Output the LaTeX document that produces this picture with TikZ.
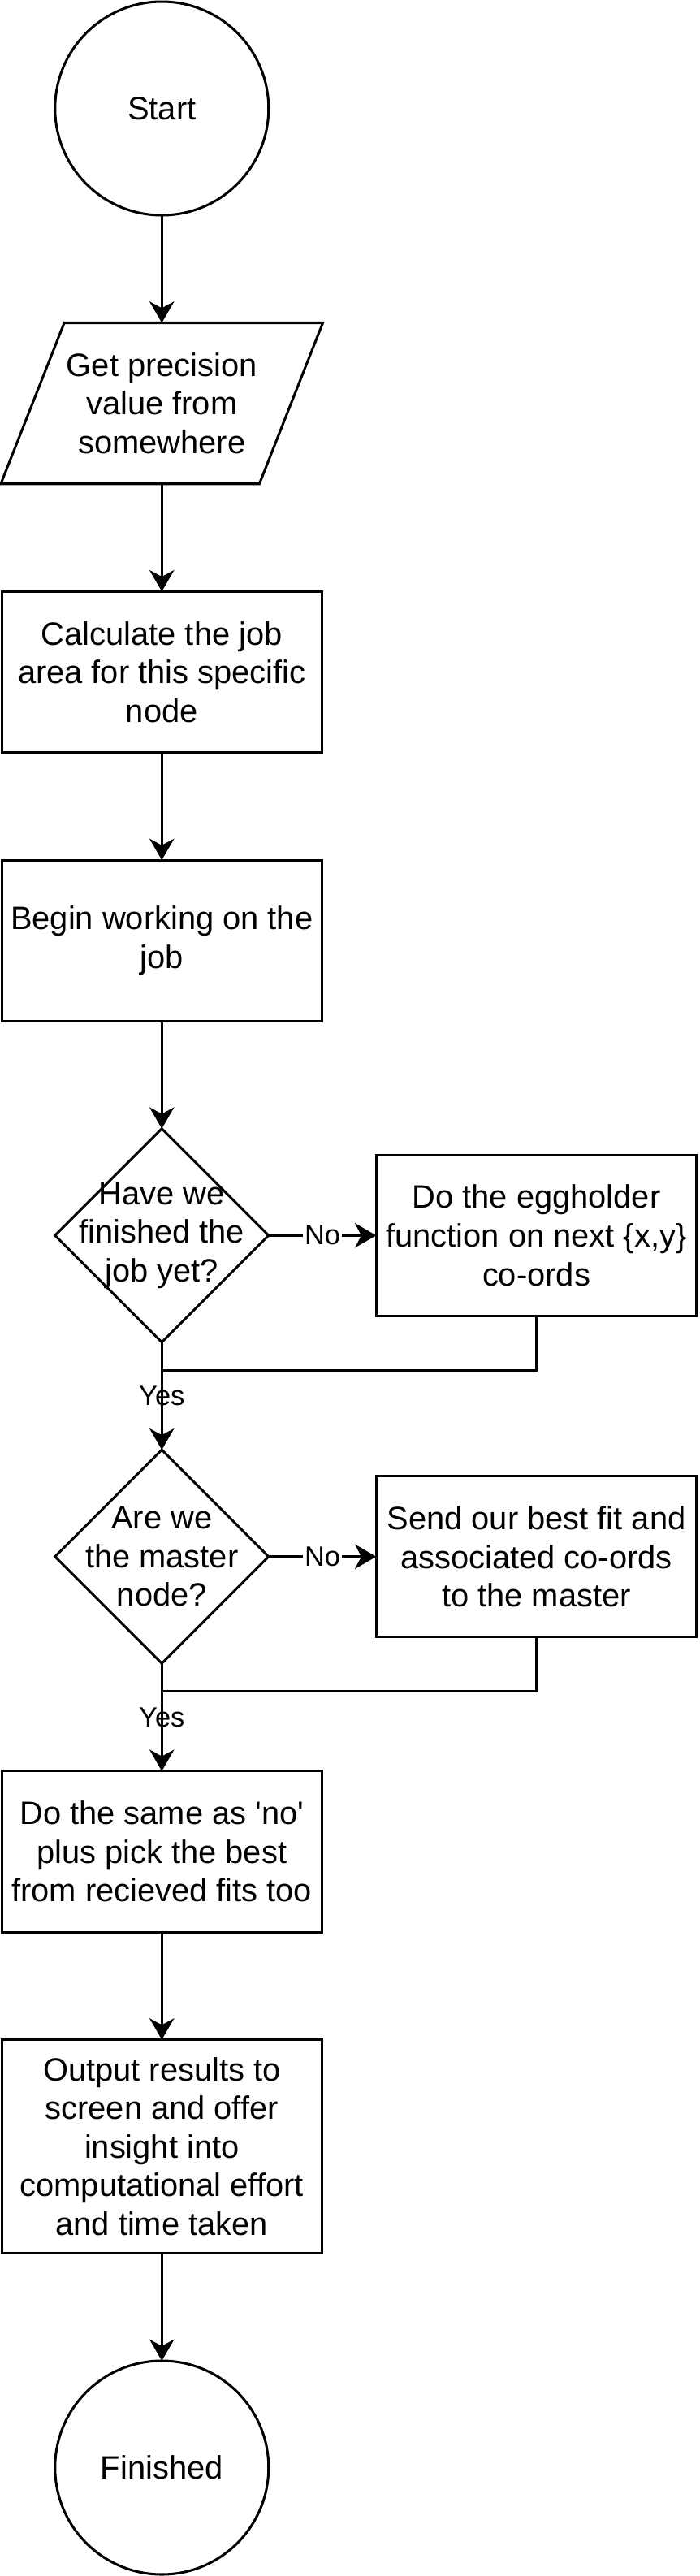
\documentclass[tikz,border=0pt]{standalone}
\usepackage{fontspec}
\setmainfont{Liberation Sans}
\usetikzlibrary{arrows.meta,calc,positioning,shapes.geometric}

\begin{document}
\begin{tikzpicture}[font=\fontsize{19.7pt}{23.5pt}\selectfont, line width=1.5pt, node distance=65.5pt, >={Stealth[length=13pt,width=15pt,inset=4pt]},
		TermStyle/.style={draw, circle, minimum size=130pt, inner sep=0pt, outer sep=0pt},
		IoStyle/.style={rectangle, minimum width=196pt, minimum height=98pt, align=center, inner sep=0pt, outer sep=0pt},
		BoxStyle/.style={draw, rectangle, minimum width=195pt, minimum height=98pt, align=center, inner sep=0pt, outer sep=0pt},
		DecStyle/.style={draw, diamond, aspect=1, minimum width=130pt, minimum height=130pt, align=center, inner sep=-16pt, outer sep=0pt},
		LblStyle/.style={font=\fontsize{17pt}{20pt}\selectfont, inner sep=1pt}]
		\useasboundingbox (0,0) rectangle (426pt,-1568pt);
		\node[TermStyle] (start) at (98.5pt,-66pt) {Start};
		\node[IoStyle, below=of start] (getprec) {Get precision\\value from\\somewhere};
		\draw ($(getprec.north west)+(38.6pt,0)$) -- (getprec.north east) -- ($(getprec.south east)+(-38.6pt,0)$) -- (getprec.south west) -- cycle;
		\node[BoxStyle, below=of getprec] (calcarea) {Calculate the job\\area for this specific\\node};
		\node[BoxStyle, below=of calcarea] (beginjob) {Begin working on the\\job};
		\node[DecStyle, below=of beginjob] (jobdone) {Have we\\finished the\\job yet?};
		\node[BoxStyle, right=of jobdone] (eggholder) {Do the eggholder\\function on next \{x,y\}\\co-ords};
		\node[DecStyle, below=of jobdone] (master) {Are we\\the master\\node?};
		\node[BoxStyle, right=of master] (sendfit) {Send our best fit and\\associated co-ords\\to the master};
		\node[BoxStyle, below=of master] (pickbest) {Do the same as \textquotesingle no\textquotesingle\\plus pick the best\\from recieved fits too};
		\node[BoxStyle, minimum height=130pt, below=of pickbest] (output) {Output results to\\screen and offer\\insight into\\computational effort\\and time taken};
		\node[TermStyle, below=of output] (finish) {Finished};
		\coordinate[below=17pt of jobdone.south] (join1);
		\coordinate[below=17pt of master.south] (join2);
		\draw[->] (start) -- (getprec);
		\draw[->] (getprec) -- (calcarea);
		\draw[->] (calcarea) -- (beginjob);
		\draw[->] (beginjob) -- (jobdone);
		\draw[->] (jobdone) -- node[LblStyle, fill=white] {No} (eggholder);
		\draw (eggholder.south) |- (join1);
		\draw[->] (jobdone) -- node[LblStyle] {Yes} (master);
		\draw[->] (master) -- node[LblStyle, fill=white] {No} (sendfit);
		\draw (sendfit.south) |- (join2);
		\draw[->] (master) -- node[LblStyle] {Yes} (pickbest);
		\draw[->] (pickbest) -- (output);
		\draw[->] (output) -- (finish);
	\end{tikzpicture}
\end{document}
